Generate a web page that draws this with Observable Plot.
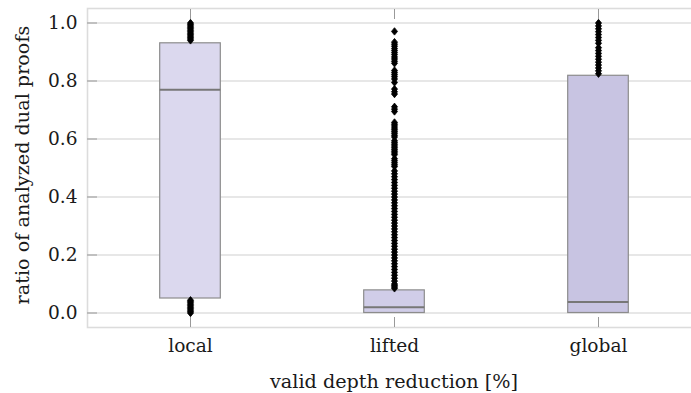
<!DOCTYPE html>
<html>
<head>
<meta charset="utf-8">
<script src="https://cdn.jsdelivr.net/npm/d3@7"></script>
<script src="https://cdn.jsdelivr.net/npm/@observablehq/plot@0.6"></script>
<style>
  html, body { margin: 0; padding: 0; background: white; overflow: hidden; }
</style>
</head>
<body>
<div id="chart"></div>
<script>
const categories = ["local", "lifted", "global"];
const q1 = [0.05, 0.0, 0.0];
const medians = [0.77, 0.02, 0.038];
const q3 = [0.93, 0.078, 0.818];
const yTicks = [0, 0.2, 0.4, 0.6, 0.8, 1.0];
const xTitle = "valid depth reduction [%]";
const yTitle = "ratio of analyzed dual proofs";

const localOutliers = [0.0, 0.005, 0.01, 0.015, 0.02, 0.025, 0.03, 0.035, 0.04, 0.044,
  0.94, 0.945, 0.95, 0.955, 0.96, 0.965, 0.97, 0.975, 0.98, 0.985, 0.99, 0.995, 1.0];
const liftedOutliers = [0.971, 0.934, 0.927, 0.92, 0.912, 0.905, 0.898, 0.891, 0.883, 0.876, 0.868, 0.861,
  0.836, 0.829, 0.822, 0.815, 0.807, 0.795, 0.772, 0.763, 0.755, 0.711, 0.703, 0.695,
  0.657, 0.651, 0.645, 0.638, 0.632, 0.626, 0.62, 0.613, 0.607, 0.594, 0.588, 0.582, 0.576, 0.57,
  0.564, 0.558, 0.552, 0.546, 0.532, 0.525, 0.518, 0.511, 0.505,
  0.49, 0.48, 0.47, 0.46, 0.45, 0.44, 0.43, 0.42, 0.41, 0.40, 0.39, 0.38,
  0.37, 0.36, 0.35, 0.34, 0.33, 0.32, 0.31, 0.30, 0.29, 0.28, 0.27, 0.26, 0.25, 0.24, 0.23, 0.22,
  0.21, 0.20, 0.19, 0.18, 0.17, 0.16, 0.15, 0.14, 0.13, 0.12, 0.11, 0.10, 0.095, 0.09, 0.085];
const globalOutliers = [0.825, 0.835, 0.845, 0.855, 0.865, 0.875, 0.885, 0.895, 0.905, 0.915,
  0.93, 0.94, 0.95, 0.96, 0.97, 0.98, 0.99, 1.0];

const boxes = categories.map((c, i) => ({cat: c, q1: q1[i], med: medians[i], q3: q3[i]}));
const fliers = [
  ...localOutliers.map(v => ({cat: "local", v})),
  ...liftedOutliers.map(v => ({cat: "lifted", v})),
  ...globalOutliers.map(v => ({cat: "global", v}))
];

const diamond = {
  draw(ctx, size) {
    const h = Math.sqrt(size / Math.PI);
    const w = h * 0.82;
    ctx.moveTo(0, -h); ctx.lineTo(w, 0); ctx.lineTo(0, h); ctx.lineTo(-w, 0); ctx.closePath();
  }
};

const boxInset = 71.7;
const tickColor = "#999";

const chart = Plot.plot({
  width: 700,
  height: 393,
  marginLeft: 87,
  marginRight: 0,
  marginTop: 8,
  marginBottom: 66,
  style: "font-family: 'DejaVu Serif'; font-size: 18.4px; color: #1a1a1a; background: white; max-width: none;",
  x: {domain: categories, padding: 0, label: null},
  y: {domain: [-0.05, 1.05], label: null},
  color: {domain: categories, range: ["#dbd8ee", "#d0cde8", "#c8c4e2"]},
  marks: [
    Plot.gridY(yTicks, {stroke: "#cfcfcf", strokeOpacity: 1, strokeWidth: 1}),
    Plot.barY(boxes, {x: "cat", y1: "q1", y2: "q3", fill: "cat", stroke: "#8c8c8c", strokeWidth: 1.2, insetLeft: boxInset, insetRight: boxInset}),
    Plot.tickY(boxes, {x: "cat", y: "med", stroke: "#777", strokeWidth: 2, insetLeft: boxInset, insetRight: boxInset}),
    Plot.frame({stroke: "#dcdcdc", strokeWidth: 1.6}),
    Plot.axisY(yTicks, {anchor: "left", tickSize: 10, dx: 10, text: null, label: null, stroke: tickColor}),
    Plot.axisY(yTicks, {anchor: "right", tickSize: 10, dx: -10, text: null, label: null, stroke: tickColor}),
    Plot.axisY(yTicks, {anchor: "left", tickSize: 0, tickPadding: 10, tickFormat: d3.format(".1f"), label: null, fontSize: 18.6}),
    Plot.axisX({anchor: "bottom", tickSize: 10, dy: -10, text: null, label: null, stroke: tickColor}),
    Plot.axisX({anchor: "top", tickSize: 10, dy: 10, text: null, label: null, stroke: tickColor}),
    Plot.axisX({anchor: "bottom", tickSize: 0, tickPadding: 11, label: null, fontSize: 18.6}),
    Plot.dot(fliers, {x: "cat", y: "v", symbol: diamond, r: 3.7, fill: "#000", stroke: "#000", strokeWidth: 0.8}),
    Plot.text([xTitle], {frameAnchor: "bottom", textAnchor: "middle", lineAnchor: "middle", dy: 54, fontSize: 19.2, fill: "currentColor"}),
    Plot.text([yTitle], {frameAnchor: "left", textAnchor: "middle", lineAnchor: "middle", rotate: -90, dx: -64.4, dy: -3, fontSize: 19.2, fill: "currentColor"})
  ]
});
document.getElementById("chart").appendChild(chart);
</script>
</body>
</html>
